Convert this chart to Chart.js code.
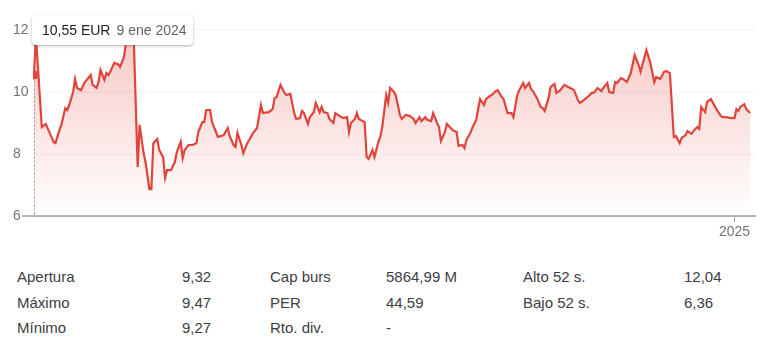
<!DOCTYPE html>
<html>
<head>
<meta charset="utf-8">
<script src="https://cdn.jsdelivr.net/npm/chart.js@4"></script>
<style>
  body { margin: 0; background: #fff; font-family: Arial, "Liberation Sans", sans-serif; }
  #wrap { position: relative; width: 768px; height: 352px; }
  #c { position: absolute; left: 0; top: 0; }
  #tip {
    position: absolute; left: 32px; top: 15px; width: 161px; height: 30px;
    box-sizing: border-box; padding-left: 10px; background: #fff; border-radius: 4px;
    box-shadow: 0 1px 3px rgba(60,64,67,.3), 0 1px 2px rgba(60,64,67,.15);
    font-size: 14px; line-height: 30px; white-space: nowrap;
  }
  #tip .p { color: #202124; }
  #tip .d { color: #5f6368; margin-left: 6px; }
  #stats { position: absolute; left: 17px; top: 264px; border-collapse: collapse; font-size: 15px; color: #3c4043; }
  #stats td { padding: 0; height: 25.5px; white-space: nowrap; }
</style>
</head>
<body>
<div id="wrap">
  <canvas id="c" width="768" height="245"></canvas>
  <div id="tip"><span class="p"></span><span class="d"></span></div>
  <table id="stats"></table>
</div>
<script>
// trading-day offsets since 9 ene 2024, and closing prices (EUR)
const days = [
  0, 1, 4, 6, 8, 10, 11, 13, 14, 16,
  17, 18, 20, 21, 22, 24, 26, 29, 30, 32,
  33, 34, 36, 37, 38, 39, 41, 43, 44, 46,
  47, 50, 51, 53, 54, 56, 57, 59, 60, 61,
  63, 64, 66, 67, 68, 70, 72, 73, 75, 76,
  77, 79, 81, 83, 84, 86, 87, 88, 90, 91,
  93, 94, 97, 99, 100, 102, 103, 104, 106, 107,
  109, 110, 112, 114, 116, 117, 120, 122, 123, 124,
  126, 128, 129, 131, 133, 134, 136, 137, 138, 140,
  141, 143, 144, 146, 147, 148, 150, 151, 153, 154,
  156, 158, 160, 161, 162, 164, 165, 166, 169, 170,
  171, 173, 174, 176, 177, 178, 180, 181, 182, 184,
  185, 187, 188, 190, 192, 194, 195, 197, 198, 200,
  201, 203, 204, 206, 207, 208, 210, 211, 213, 214,
  216, 217, 219, 220, 221, 223, 224, 226, 227, 228,
  230, 231, 233, 234, 236, 237, 239, 240, 242, 244,
  245, 247, 248, 250, 251, 253, 254, 255, 257, 259,
  260, 261, 263, 264, 266, 267, 269, 271, 273, 275,
  276, 278, 279, 281, 283, 285, 286, 288, 290, 291,
  293, 294, 296, 297, 298, 300, 301, 303, 305, 307,
  309, 310, 313, 315, 317, 318, 320, 322, 323, 325,
  327, 328, 330, 331, 333, 334, 336, 338, 339, 340,
  341, 343, 344, 346, 347, 349, 351, 352, 354, 356,
  358, 359, 360, 361, 363, 364, 366
];
const prices = [
  10.55, 11.8, 8.87, 8.97, 8.68, 8.39, 8.35, 8.77, 8.94, 9.48,
  9.42, 9.58, 10.0, 10.42, 10.13, 10.06, 10.32, 10.55, 10.23, 10.13,
  10.32, 10.71, 10.39, 10.61, 10.55, 10.65, 10.94, 10.9, 10.81, 11.13,
  11.58, 12.04, 11.7, 7.58, 8.94, 8.03, 7.74, 6.87, 6.87, 8.35,
  8.48, 8.13, 7.9, 7.23, 7.48, 7.48, 7.74, 8.06, 8.39, 7.87,
  8.13, 8.29, 8.29, 8.35, 8.71, 9.03, 9.03, 9.42, 9.42, 9.03,
  8.71, 8.55, 8.61, 8.84, 8.58, 8.29, 8.23, 8.68, 8.29, 8.03,
  8.35, 8.45, 8.68, 8.84, 9.58, 9.32, 9.35, 9.45, 9.81, 9.84,
  10.23, 9.97, 9.9, 9.94, 9.32, 9.13, 9.16, 9.39, 9.32, 8.97,
  9.19, 9.35, 9.65, 9.35, 9.52, 9.35, 9.32, 9.13, 9.0, 9.32,
  9.23, 9.16, 9.19, 8.71, 9.0, 9.13, 9.32, 9.13, 9.03, 7.9,
  7.84, 8.13, 7.9, 8.39, 8.55, 8.87, 9.9, 9.65, 10.13, 10.0,
  9.87, 9.26, 9.13, 9.26, 9.23, 9.13, 9.0, 9.19, 9.06, 9.19,
  9.1, 9.06, 9.32, 9.0, 8.87, 8.42, 8.71, 8.97, 8.84, 8.77,
  8.71, 8.26, 8.29, 8.19, 8.45, 8.68, 8.84, 9.1, 9.45, 9.77,
  9.58, 9.77, 9.87, 9.9, 10.03, 10.06, 9.84, 9.77, 9.32, 9.32,
  9.19, 9.9, 10.06, 10.29, 10.13, 10.29, 10.1, 10.03, 9.81, 9.52,
  9.48, 9.39, 9.81, 10.16, 10.26, 9.97, 10.06, 10.23, 10.16, 10.1,
  10.06, 9.74, 9.65, 9.74, 9.84, 9.97, 9.97, 10.13, 10.03, 10.13,
  10.29, 10.0, 9.97, 10.32, 10.29, 10.45, 10.42, 10.32, 10.61, 11.19,
  10.87, 10.65, 11.35, 10.94, 10.32, 10.48, 10.42, 10.65, 10.68, 10.61,
  8.55, 8.58, 8.35, 8.52, 8.61, 8.74, 8.65, 8.81, 8.87, 8.81,
  9.52, 9.35, 9.68, 9.77, 9.65, 9.42, 9.23, 9.19, 9.19, 9.16,
  9.16, 9.45, 9.39, 9.52, 9.61, 9.45, 9.32
];

const yTicks = [6, 8, 10, 12];
const xTickDays = [358];
const xTickLabels = ["2025"];

const hoverIndex = 0;
const hoverPrice = "10,55 EUR";
const hoverDate = "9 ene 2024";

const statLabelsA = ["Apertura", "Máximo", "Mínimo"];
const statValuesA = ["9,32", "9,47", "9,27"];
const statLabelsB = ["Cap burs", "PER", "Rto. div."];
const statValuesB = ["5864,99 M", "44,59", "-"];
const statLabelsC = ["Alto 52 s.", "Bajo 52 s.", ""];
const statValuesC = ["12,04", "6,36", ""];

const red = "#e0443a";
const grey = "#70757a";

document.querySelector("#tip .p").textContent = hoverPrice;
document.querySelector("#tip .d").textContent = hoverDate;

// stats table under the chart
const colWidths = [165, 88, 116, 137, 161, 60];
const table = document.getElementById("stats");
for (let r = 0; r < statLabelsA.length; r++) {
  const tr = document.createElement("tr");
  [statLabelsA[r], statValuesA[r], statLabelsB[r], statValuesB[r], statLabelsC[r], statValuesC[r]]
    .forEach((txt, i) => {
      const td = document.createElement("td");
      td.style.width = colWidths[i] + "px";
      td.textContent = txt;
      tr.appendChild(td);
    });
  table.appendChild(tr);
}

// dotted guide under the hovered point, and the grey baseline
const guides = {
  id: "guides",
  beforeDatasetsDraw(chart) {
    const { ctx, chartArea, scales } = chart;
    const x = scales.x.getPixelForValue(days[hoverIndex]);
    ctx.save();
    ctx.strokeStyle = "#9aa0a6";
    ctx.lineWidth = 1;
    ctx.setLineDash([2, 2]);
    ctx.beginPath();
    ctx.moveTo(Math.round(x) + 0.5, chartArea.top + 30);
    ctx.lineTo(Math.round(x) + 0.5, chartArea.bottom);
    ctx.stroke();
    ctx.restore();
  },
  afterDraw(chart) {
    const { ctx, chartArea, scales } = chart;
    const y = Math.round(scales.y.getPixelForValue(yTicks[0]));
    ctx.save();
    ctx.strokeStyle = "#9aa0a6";
    ctx.lineWidth = 1.5;
    ctx.beginPath();
    ctx.moveTo(22, y);
    ctx.lineTo(chartArea.right, y);
    ctx.stroke();
    ctx.restore();
  }
};

Chart.defaults.font.family = "Arial, 'Liberation Sans', sans-serif";

new Chart(document.getElementById("c").getContext("2d"), {
  type: "line",
  data: {
    datasets: [{
      data: days.map((d, i) => ({ x: d, y: prices[i] })),
      borderColor: red,
      borderWidth: 2.2,
      tension: 0,
      fill: "start",
      backgroundColor: (ctx) => {
        const area = ctx.chart.chartArea;
        if (!area) return "rgba(224,68,58,0.1)";
        const g = ctx.chart.ctx.createLinearGradient(0, area.top, 0, area.bottom);
        g.addColorStop(0, "rgba(224,68,58,0.32)");
        g.addColorStop(1, "rgba(224,68,58,0)");
        return g;
      },
      pointRadius: (ctx) => ctx.dataIndex === hoverIndex ? 4.5 : 0,
      pointBackgroundColor: red,
      pointBorderWidth: 0
    }]
  },
  options: {
    responsive: false,
    animation: false,
    events: [],
    layout: { padding: { left: 13, right: 12, top: 14.5, bottom: 0 } },
    plugins: { legend: { display: false }, tooltip: { enabled: false } },
    scales: {
      x: {
        type: "linear",
        min: -0.5,
        max: 369,
        afterFit: (s) => { s.height = 29; },
        afterBuildTicks: (s) => { s.ticks = xTickDays.map(v => ({ value: v })); },
        ticks: {
          callback: (v) => xTickLabels[xTickDays.indexOf(v)] || "",
          color: grey,
          font: { size: 14 },
          padding: 2,
          maxRotation: 0,
          autoSkip: false
        },
        grid: { drawOnChartArea: false, drawTicks: true, tickLength: 6, color: "#9aa0a6" },
        border: { display: false }
      },
      y: {
        min: 6,
        max: 12.5,
        afterFit: (s) => { s.width = 20; },
        afterBuildTicks: (s) => { s.ticks = yTicks.map(v => ({ value: v })); },
        ticks: { crossAlign: "far", color: grey, font: { size: 14 }, padding: 0 },
        grid: { color: "#f1f3f4", drawTicks: false },
        border: { display: false }
      }
    }
  },
  plugins: [guides]
});
</script>
</body>
</html>
